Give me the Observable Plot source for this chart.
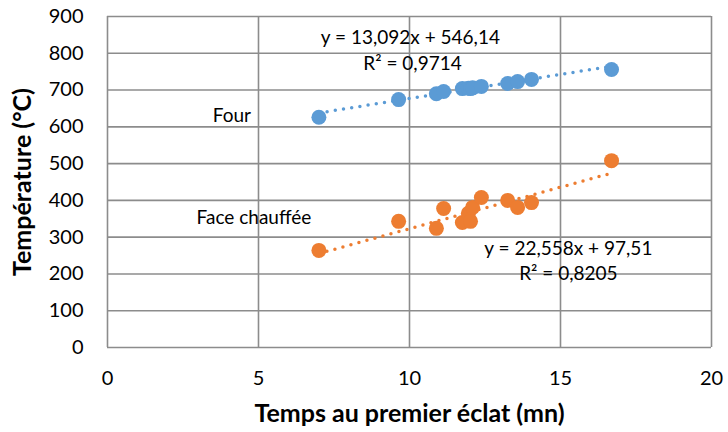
<!DOCTYPE html>
<html><head><meta charset="utf-8">
<script src="https://cdn.jsdelivr.net/npm/d3@7"></script>
<script src="https://cdn.jsdelivr.net/npm/@observablehq/plot@0.6"></script>
<style>
body{margin:0;background:#fff;}
#chart svg{font-family:Lato,"Open Sans",sans-serif;}
#chart g[aria-label="x-axis label"] text,#chart g[aria-label="y-axis label"] text{font-weight:bold;font-size:25px;}
</style></head><body><div id="chart"></div>
<script>
// Temps au premier éclat (mn)
const temps = [7.0, 9.64, 10.89, 11.13, 11.75, 11.95, 12.02, 12.09, 12.38, 13.25, 13.58, 14.04, 16.69];
// Température (°C)
const four = [626, 674, 690, 696, 704, 705, 704, 706, 710, 718, 723, 729, 756];
const faceChauffee = [264, 343, 324, 378, 340, 365, 343, 381, 408, 400, 381, 394, 508];
const seriesNames = ["Four", "Face chauffée"];
const seriesColors = ["#5B9BD5", "#ED7D31"];
const trendSlopes = [13.092, 22.558];
const trendIntercepts = [546.14, 97.51];
const eqLabels = ["y = 13,092x + 546,14", "y = 22,558x + 97,51"];
const r2Labels = ["R² = 0,9714", "R² = 0,8205"];
const xTicks = [0, 5, 10, 15, 20];
const yTicks = [0, 100, 200, 300, 400, 500, 600, 700, 800, 900];

const points = [];
temps.forEach((t, i) => {
  points.push({x: t, y: four[i], s: seriesNames[0]});
  points.push({x: t, y: faceChauffee[i], s: seriesNames[1]});
});
const xmin = d3.min(temps), xmax = d3.max(temps);
const trends = [];
seriesNames.forEach((s, k) => {
  [xmin, xmax].forEach(x => trends.push({x, y: trendSlopes[k] * x + trendIntercepts[k], s}));
});

const grid = "#8c8c8c";
const chart = Plot.plot({
  width: 728, height: 432,
  marginLeft: 107, marginRight: 17, marginTop: 16, marginBottom: 85,
  style: {fontSize: "20px", color: "#000", background: "#fff"},
  x: {domain: [0, 20]},
  y: {domain: [0, 900]},
  color: {domain: seriesNames, range: seriesColors},
  marks: [
    Plot.ruleX(xTicks, {stroke: grid, strokeWidth: 1.6}),
    Plot.ruleY(yTicks, {stroke: grid, strokeWidth: 1.6}),
    Plot.axisX({ticks: xTicks, tickSize: 0, tickPadding: 23, label: "Temps au premier éclat (mn)", labelAnchor: "center", labelArrow: "none", labelOffset: 74}),
    Plot.axisY({ticks: yTicks, tickSize: 0, tickPadding: 24, label: "Température (°C)", labelAnchor: "center", labelArrow: "none", labelOffset: 94}),
    Plot.line(trends, {x: "x", y: "y", z: "s", stroke: "s", strokeWidth: 3.5, strokeDasharray: "0 8.3", strokeLinecap: "round"}),
    Plot.dot(points, {x: "x", y: "y", fill: "s", r: 7.5}),
    Plot.text([seriesNames[0]], {x: 4.75, y: 631, text: d => d, textAnchor: "end", fontSize: 19}),
    Plot.text([seriesNames[1]], {x: 2.95, y: 353, text: d => d, textAnchor: "start", fontSize: 19}),
    Plot.text([eqLabels[0]], {x: 10.03, y: 843, text: d => d, fontSize: 19}),
    Plot.text([r2Labels[0]], {x: 10.1, y: 772, text: d => d, fontSize: 19}),
    Plot.text([eqLabels[1]], {x: 15.26, y: 269, text: d => d, fontSize: 19}),
    Plot.text([r2Labels[1]], {x: 15.26, y: 201, text: d => d, fontSize: 19})
  ]
});
document.getElementById("chart").appendChild(chart);
</script></body></html>
